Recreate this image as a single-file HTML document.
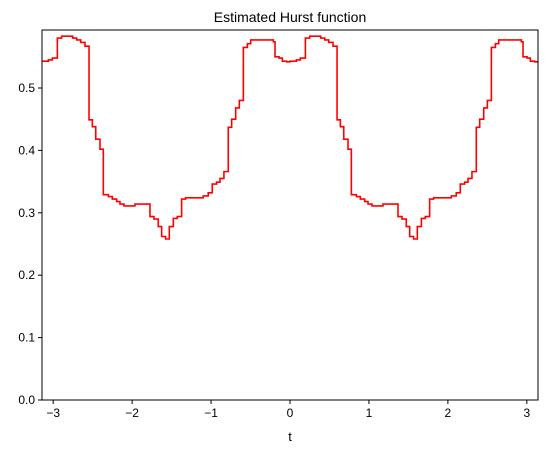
<!DOCTYPE html>
<html><head><meta charset="utf-8"><style>
body{margin:0;background:#fff}
svg text{font-family:"Liberation Sans","DejaVu Sans",sans-serif;fill:#000}
</style></head><body>
<svg id="chart" width="547" height="453" viewBox="0 0 547 453" xmlns="http://www.w3.org/2000/svg">
<rect x="0" y="0" width="547" height="453" fill="#fff"/>
<text x="290" y="22" font-size="14" text-anchor="middle">Estimated Hurst function</text>
<g id="axes"></g>
<path id="line" fill="none" stroke="#ff0000" stroke-width="1.6"/>
<rect x="42" y="30" width="496" height="370" fill="none" stroke="#000" stroke-width="1"/>
<text x="290" y="441" font-size="13" text-anchor="middle">t</text>
</svg>
<script>
const stepStarts = [-3.1416,-3.061,-3.011,-2.947,-2.892,-2.753,-2.702,-2.651,-2.597,-2.546,-2.504,-2.461,-2.407,-2.365,-2.301,-2.251,-2.196,-2.154,-2.103,-1.964,-1.774,-1.723,-1.669,-1.626,-1.576,-1.529,-1.478,-1.428,-1.373,-1.323,-1.099,-1.036,-0.985,-0.930,-0.887,-0.837,-0.782,-0.739,-0.688,-0.642,-0.591,-0.540,-0.498,-0.211,-0.190,-0.139,-0.097,-0.042,
0.000,0.081,0.131,0.195,0.250,0.389,0.440,0.491,0.545,0.596,0.638,0.681,0.735,0.777,0.841,0.891,0.946,0.988,1.039,1.178,1.368,1.419,1.473,1.516,1.566,1.613,1.664,1.714,1.769,1.819,2.043,2.106,2.157,2.212,2.255,2.305,2.360,2.403,2.454,2.500,2.551,2.602,2.644,2.931,2.952,3.003,3.045,3.100];
const hurstValues = [0.543,0.545,0.548,0.580,0.583,0.580,0.577,0.573,0.567,0.449,0.438,0.418,0.402,0.329,0.326,0.322,0.318,0.314,0.311,0.314,0.294,0.290,0.278,0.262,0.258,0.278,0.291,0.294,0.322,0.324,0.327,0.332,0.346,0.349,0.355,0.366,0.437,0.450,0.468,0.480,0.565,0.571,0.577,0.574,0.550,0.548,0.543,0.542,
0.543,0.545,0.548,0.580,0.583,0.580,0.577,0.573,0.567,0.449,0.438,0.418,0.402,0.329,0.326,0.322,0.318,0.314,0.311,0.314,0.294,0.290,0.278,0.262,0.258,0.278,0.291,0.294,0.322,0.324,0.327,0.332,0.346,0.349,0.355,0.366,0.437,0.450,0.468,0.480,0.565,0.571,0.577,0.574,0.550,0.548,0.543,0.542];
const xTicks = [-3,-2,-1,0,1,2,3];
const xTickLabels = ["\u22123","\u22122","\u22121","0","1","2","3"];
const yTicks = [0,0.1,0.2,0.3,0.4,0.5];
const yTickLabels = ["0.0","0.1","0.2","0.3","0.4","0.5"];
const tMax = 3.1416;

const L=42,R=538,T=30,B=400;
const xs = t => L + (t + Math.PI)/(2*Math.PI)*(R-L);
const ys = v => B - v/0.5*(B-88);
const NS="http://www.w3.org/2000/svg";
const axes=document.getElementById('axes');
function mk(tag,attrs){const e=document.createElementNS(NS,tag);for(const k in attrs)e.setAttribute(k,attrs[k]);axes.appendChild(e);return e;}
xTicks.forEach((t,i)=>{
  const x=xs(t);
  const tk=mk('line',{x1:x,x2:x,y1:B,y2:B+4,stroke:'#000'});
  
  
  const lb=mk('text',{x:x,y:B+17,'font-size':12,'text-anchor':'middle'});
  lb.textContent=xTickLabels[i];
  
  
});
yTicks.forEach((v,i)=>{
  const y=ys(v);
  const tk=mk('line',{x1:L-4,x2:L,y1:y,y2:y,stroke:'#000'});
  
  
  const lb=mk('text',{x:L-7,y:y+4,'font-size':12,'text-anchor':'end'});
  lb.textContent=yTickLabels[i];
  
  
});
let d='';
for(let i=0;i<stepStarts.length;i++){
  const x0=xs(stepStarts[i]);
  const x1=xs(i+1<stepStarts.length?stepStarts[i+1]:tMax);
  const y=ys(hurstValues[i]);
  d+=(i===0?'M':'L')+x0.toFixed(2)+','+y.toFixed(2)+'L'+x1.toFixed(2)+','+y.toFixed(2);
}
document.getElementById('line').setAttribute('d',d);
</script>
</body></html>
